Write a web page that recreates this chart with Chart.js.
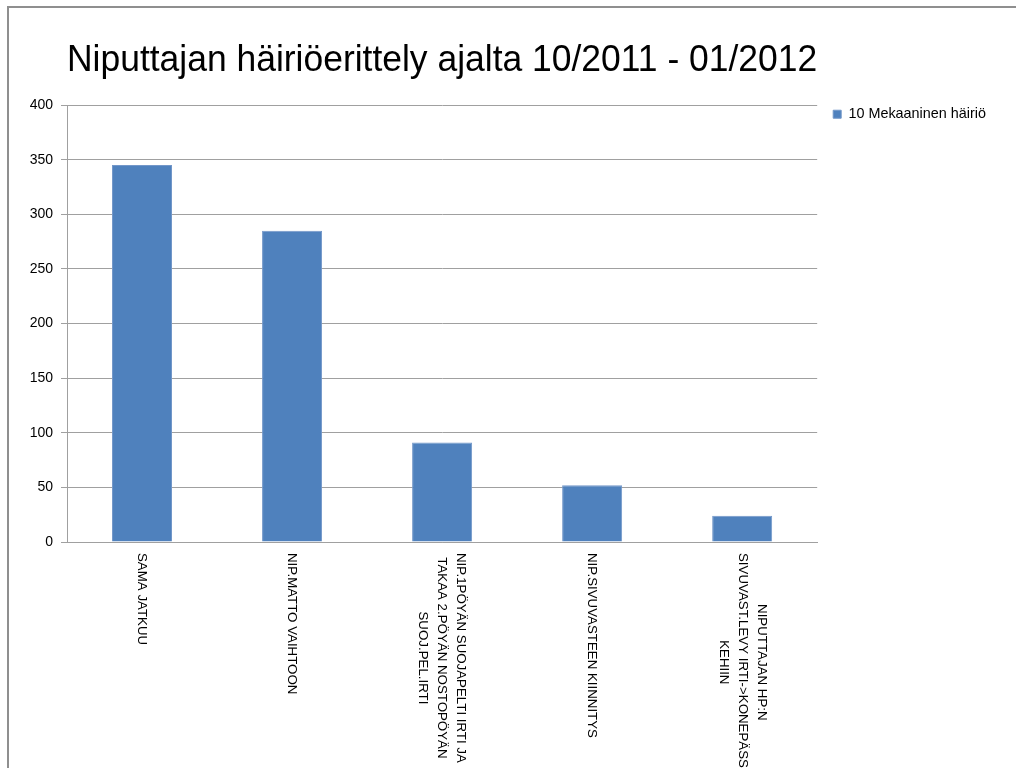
<!DOCTYPE html>
<html>
<head>
<meta charset="utf-8">
<script src="https://cdn.jsdelivr.net/npm/chart.js@4/dist/chart.umd.min.js"></script>
<style>
  html, body { margin: 0; padding: 0; background: #fff; }
  #wrap { position: relative; width: 1016px; height: 768px; overflow: hidden; }
  #frame { position: absolute; left: 7px; top: 6px; width: 1040px; height: 800px;
           border-top: 2px solid #8f8f8f; border-left: 2px solid #8f8f8f; pointer-events: none; }
  canvas { display: block; }
</style>
</head>
<body>
<div id="wrap">
  <canvas id="c" width="1016" height="768"></canvas>
  <div id="frame"></div>
</div>
<script>
const chartTitle = "Niputtajan häiriöerittely ajalta 10/2011 - 01/2012";
const seriesName = "10 Mekaaninen häiriö";
const categories = [
  ["SAMA JATKUU"],
  ["NIP.MATTO VAIHTOON"],
  ["NIP.1PÖYÄN SUOJAPELTI IRTI JA", "TAKAA 2.PÖYÄN NOSTOPÖYÄN", "SUOJ.PEL.IRTI"],
  ["NIP.SIVUVASTEEN KIINNITYS"],
  ["NIPUTTAJAN HP:N", "SIVUVAST.LEVY IRTI->KONEPÄSSI", "KEHIIN"]
];
const values = [345, 285, 91, 52, 24];
const yTicks = [0, 50, 100, 150, 200, 250, 300, 350, 400];

const FONT = "'Liberation Sans', Arial, sans-serif";

const rotatedLabels = {
  id: 'rotatedLabels',
  afterDraw(chart) {
    const xs = chart.scales.x;
    const ctx = chart.ctx;
    const lh = 19;
    ctx.save();
    ctx.font = "13.3px " + FONT;
    ctx.fillStyle = '#000';
    ctx.textAlign = 'center';
    ctx.textBaseline = 'middle';
    chart.data.labels.forEach((lines, i) => {
      const x = xs.getPixelForTick(i);
      const top = xs.top + 11;
      let maxW = 0;
      lines.forEach(l => { maxW = Math.max(maxW, ctx.measureText(l).width); });
      ctx.save();
      ctx.translate(x, top);
      ctx.rotate(Math.PI / 2);
      const n = lines.length;
      lines.forEach((l, j) => {
        ctx.fillText(l, maxW / 2, (j - (n - 1) / 2) * lh);
      });
      ctx.restore();
    });
    ctx.restore();
  }
};

new Chart(document.getElementById('c'), {
  type: 'bar',
  data: {
    labels: categories,
    datasets: [{
      label: seriesName,
      data: values,
      backgroundColor: '#4F81BD',
      borderColor: '#7397c9',
      borderWidth: 1,
      barPercentage: 0.4,
      categoryPercentage: 1.0
    }]
  },
  options: {
    responsive: false,
    animation: false,
    layout: { padding: { left: 0, right: 20, top: 0, bottom: 0 } },
    plugins: {
      title: {
        display: true,
        text: chartTitle,
        align: 'start',
        fullSize: false,
        color: '#000',
        font: { family: FONT, size: 37.6, weight: 'normal', lineHeight: 1.2 },
        padding: { top: 38, bottom: 21.9 }
      },
      legend: {
        display: true,
        position: 'right',
        align: 'start',
        fullSize: false,
        labels: {
          boxWidth: 8,
          boxHeight: 8,
          padding: 2,
          color: '#000',
          font: { family: FONT, size: 14.4 }
        }
      },
      tooltip: { enabled: false }
    },
    scales: {
      x: {
        grid: { display: false },
        border: { display: true, color: '#a0a0a0', width: 1 },
        ticks: { display: false },
        afterFit(s) { s.height = 226; }
      },
      y: {
        min: 0,
        max: 400,
        afterBuildTicks(s) { s.ticks = yTicks.map(v => ({ value: v })); },
        grid: { color: '#a0a0a0', lineWidth: 1, drawTicks: true, tickLength: 6, tickColor: '#a0a0a0' },
        border: { display: true, color: '#a0a0a0', width: 1 },
        ticks: { color: '#000', padding: 8, font: { family: FONT, size: 14 } },
        afterFit(s) { s.width = 67; }
      },
      gap: {
        type: 'linear',
        position: 'right',
        display: true,
        grid: { display: false, drawTicks: false },
        border: { display: false },
        ticks: { display: false },
        afterFit(s) { s.width = 14; }
      }
    }
  },
  plugins: [rotatedLabels]
});
</script>
</body>
</html>
